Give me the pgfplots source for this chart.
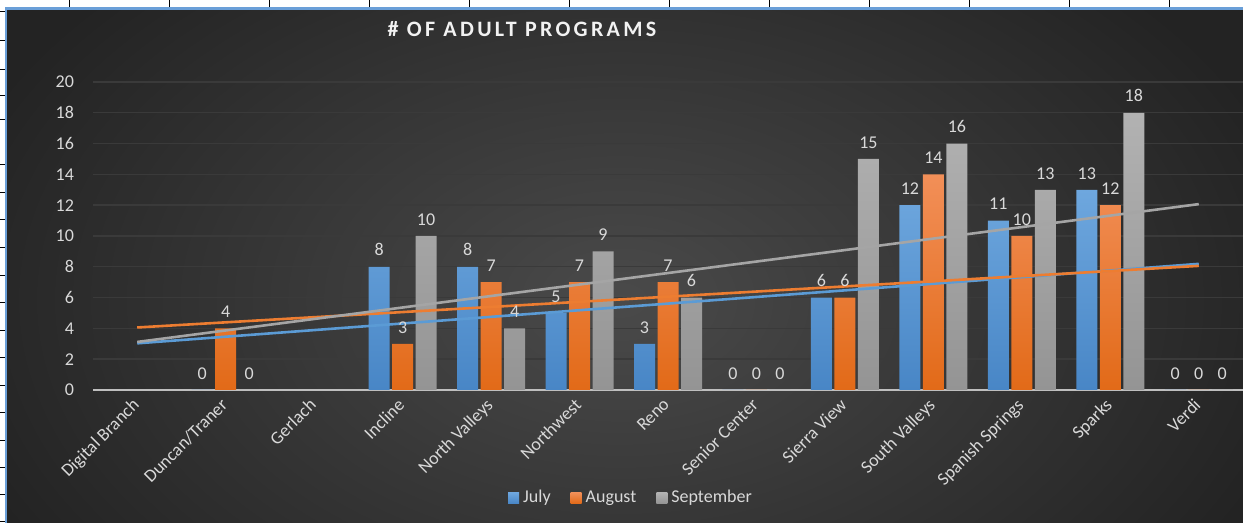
\documentclass[border=0pt]{standalone}
\usepackage{fontspec}
\setmainfont{Carlito}
\newfontfamily\titlefont[LetterSpace=15]{Carlito}
\usepackage{pgfplots}
\pgfplotsset{compat=1.18}
\definecolor{bgdark}{HTML}{232323}
\definecolor{bglight}{HTML}{4A4A4A}
\definecolor{jul}{HTML}{5B9BD5}
\definecolor{aug}{HTML}{ED7D31}
\definecolor{sep}{HTML}{A5A5A5}
\definecolor{jultop}{HTML}{6EA7DE}
\definecolor{julbot}{HTML}{4886C6}
\definecolor{augtop}{HTML}{F28F58}
\definecolor{augbot}{HTML}{E26A18}
\definecolor{septop}{HTML}{B2B2B2}
\definecolor{sepbot}{HTML}{949494}
\definecolor{txt}{HTML}{D9D9D9}
\definecolor{gridc}{HTML}{3A3A3A}
\definecolor{axisc}{HTML}{BFBFBF}
\definecolor{frameblue}{HTML}{6A9FD8}
\begin{document}
\begin{tikzpicture}
\useasboundingbox (0,0) rectangle (621.5pt,261.5pt);
\begin{scope}[x=0.5pt,y=-0.5pt,yshift=261.5pt]
  \fill[white] (0,0) rectangle (1243,523);
  \foreach \x in {69,169,...,1169} \draw[black,line width=0.5pt] (\x,0) -- (\x,8);
  \foreach \y in {12,41,70,96,120,165,193,220,248,276,303,331,358,386,413,441,468,495,522}
    \draw[black,line width=0.5pt] (0,\y) -- (6,\y);
  \fill[bgdark] (7,9) rectangle (1243,523);
  \begin{scope}
    \clip (7,9) rectangle (1243,523);
    \fill[inner color=bglight, outer color=bgdark] (-80,-150) rectangle (1320,750);
  \end{scope}
  \draw[frameblue, line width=1.1pt] (6,523) -- (6,8.5) -- (1243,8.5);
\end{scope}
\begin{axis}[
  at={(46.5pt,66.5pt)}, anchor=south west,
  scale only axis, width=575pt, height=154pt,
  xmin=-0.5, xmax=12.5, ymin=0, ymax=20,
  axis line style={draw=none},
  major tick length=0pt,
  ytick={2,4,...,20},
  extra y ticks={0},
  extra y tick style={grid style={draw=axisc, line width=0.7pt}},
  ymajorgrids,
  grid style={draw=gridc, line width=0.7pt},
  xtick={0,...,12},
  xticklabels={Digital Branch,Duncan/Traner,Gerlach,Incline,North Valleys,Northwest,Reno,Senior Center,Sierra View,South Valleys,Spanish Springs,Sparks,Verdi},
  xticklabel style={xshift=-3pt, yshift=-2pt, rotate=45, anchor=north east, font=\fontsize{9}{10}\selectfont, text=txt, inner sep=1pt},
  yticklabel style={font=\fontsize{9}{10}\selectfont, text=txt, xshift=-6pt},
  /pgf/number format/assume math mode=true,
  clip=false,
  legend style={at={(0.4687,-0.3506)}, anchor=center, draw=none, fill=none,
    legend columns=-1, font=\fontsize{9}{10}\selectfont, text=txt,
    /tikz/every even column/.append style={column sep=8pt}},
  mybar/.style={ybar, bar width=10.5pt, bar shift=#1, draw=none,
    legend image code/.code={\fill[##1] (0pt,-2.75pt) rectangle (5.5pt,2.75pt);},
    nodes near coords,
    nodes near coords style={font=\fontsize{9}{10}\selectfont, text=txt, anchor=south, xshift=#1, yshift=1.8pt},
    /pgf/number format/assume math mode=true},
]
\addplot[mybar=-11.75pt, top color=jultop, bottom color=julbot]
  coordinates {(1,0) (3,8) (4,8) (5,5) (6,3) (7,0) (8,6) (9,12) (10,11) (11,13) (12,0)};
\addplot[mybar=0pt, top color=augtop, bottom color=augbot]
  coordinates {(1,4) (3,3) (4,7) (5,7) (6,7) (7,0) (8,6) (9,14) (10,10) (11,12) (12,0)};
\addplot[mybar=11.75pt, top color=septop, bottom color=sepbot]
  coordinates {(1,0) (3,10) (4,4) (5,9) (6,6) (7,0) (8,15) (9,16) (10,13) (11,18) (12,0)};
\legend{July,August,September}
\addplot[sharp plot, forget plot, jul, line width=1.3pt, mark=none] coordinates {(0,3.03) (12,8.19)};
\addplot[sharp plot, forget plot, aug, line width=1.3pt, mark=none] coordinates {(0,4.06) (12,8.06)};
\addplot[sharp plot, forget plot, sep, line width=1.3pt, mark=none] coordinates {(0,3.12) (12,12.07)};
\end{axis}
\node[font=\titlefont\bfseries\fontsize{11}{13}\selectfont, text=white!95!black] at (261pt,247pt) {\# OF ADULT PROGRAMS};
\end{tikzpicture}
\end{document}
